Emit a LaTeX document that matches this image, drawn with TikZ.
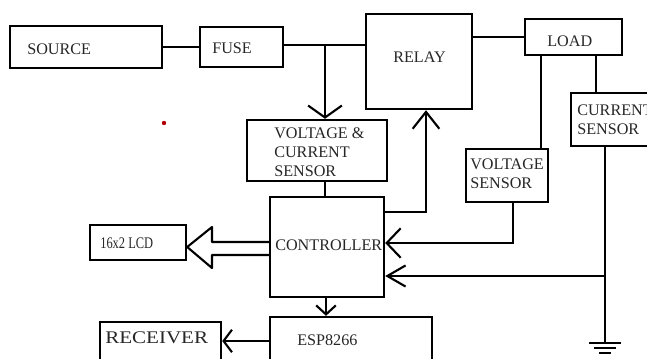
\documentclass[tikz,border=0pt]{standalone}
\usepackage{fontspec}
\setmainfont{Liberation Serif}
\usepackage{graphicx}
\usetikzlibrary{arrows.meta}
\usetikzlibrary{fit}

\begin{document}
\begin{tikzpicture}[x=0.025cm, y=-0.025cm,
    box/.style={draw, rectangle, line width=1.7pt, inner sep=0pt},
    txt/.style={inner sep=0pt, anchor=base west, text=black!85, font=\fontsize{11.5}{13.5}\selectfont},
    txtml/.style={txt, anchor=north west, align=left},
    wire/.style={line width=1.5pt},
    vee/.style 2 args={wire, -{Straight Barb[length=#1, width=#2]}}]
    \useasboundingbox (0,0) rectangle (647,358);

    % Power path
    \node[box, fit={(10,26) (162,68)}] (source) {};
    \node[box, fit={(200,27) (283,67)}] (fuse) {};
    \node[box, fit={(366,14) (472,109)}] (relay) {};
    \node[box, fit={(525,19) (622,55)}] (load) {};

    % Sensors
    \node[box, fit={(247,120) (387,181)}] (vcs) {};
    \node[box, fit={(466,149) (548,202)}] (vs) {};
    \node[box, fit={(571,93) (680,146)}] (cs) {};

    % Controller and outputs
    \node[box, fit={(270,197) (384,297)}] (ctrl) {};
    \node[box, fit={(90,225) (186,260)}] (lcd) {};
    \node[box, fit={(270,317) (432,390)}] (esp) {};
    \node[box, fit={(100,322) (221,390)}] (recv) {};

    % Labels
    \node[txt] (source-t) at (27,54) {SOURCE};
    \node[txt] (fuse-t) at (212,53) {FUSE};
    \node[txt] (relay-t) at (393,62) {RELAY};
    \node[txt] (load-t) at (547,46) {LOAD};
    \node[txtml] (vcs-t) at (274,127) {VOLTAGE \&\\CURRENT\\SENSOR};
    \node[txtml] (vs-t) at (470,159) {VOLTAGE\\SENSOR};
    \node[txtml] (cs-t) at (577,105) {CURRENT\\SENSOR};
    \node[txt] (ctrl-t) at (275,250) {CONTROLLER};
    \node[txt] (esp-t) at (297,345) {ESP8266};
    \node[txt] (lcd-t) at (100,248) {\scalebox{0.77}[1]{16x2 LCD}};
    \node[txt] (recv-t) at (105,343) {\scalebox{1.3}[1.1]{RECEIVER}};

    % Stray mark
    \node[circle, fill=red!70!black, inner sep=1.1pt] (dot) at (164,123) {};

    % Connections
    \coordinate (tap) at (325,45);
    \coordinate (gnd) at (605,343);
    \coordinate (tap2) at (605,276);
    \draw[wire] (source) -- (fuse);
    \draw[wire] (fuse.east |- tap) -- (relay.west |- tap);
    \draw[vee={8.5pt}{24pt}] (tap) -- (tap |- vcs.north);
    \draw[wire] (tap |- vcs.south) -- (tap |- ctrl.north);
    \draw[vee={12pt}{19pt}] (ctrl.east |- 0,212) -| (relay.south -| 426,0);
    \draw[wire] (relay.east |- load.west) -- (load.west);
    \draw[wire] (load.south -| 541,0) -- (vs.north -| 541,0);
    \draw[wire] (load.south -| 596,0) -- (cs.north -| 596,0);
    \draw[vee={10pt}{21pt}] (vs.south -| 513,0) |- (ctrl.east |- 0,243);
    \draw[wire] (cs.south -| gnd) -- (gnd);
    \draw[vee={13pt}{15pt}] (tap2) -- (ctrl.east |- tap2);
    \draw[vee={6.4pt}{14pt}] (ctrl.south -| 326,0) -- (esp.north -| 326,0);
    \draw[vee={6pt}{16pt}] (esp.west |- 0,341) -- (recv.east |- 0,341);

    % Bus arrow to the display
    \draw[wire, line join=round] (ctrl.west |- 0,242) -- (212,242) -- (212,227)
        -- (lcd.east |- 0,247) -- (212,268) -- (212,255) -- (ctrl.west |- 0,255);

    % Ground
    \foreach \dy/\w in {0/16, 5/11, 10/6} {
        \draw[wire] ([shift={(-\w,\dy)}]gnd) -- ([shift={(\w,\dy)}]gnd);
    }
\end{tikzpicture}
\end{document}
